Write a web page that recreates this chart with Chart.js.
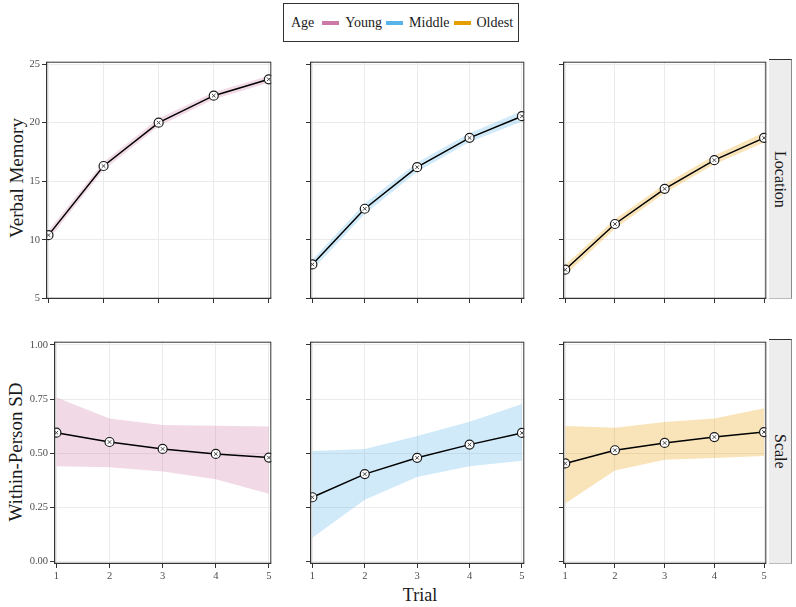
<!DOCTYPE html>
<html>
<head>
<meta charset="utf-8">
<script src="https://cdn.jsdelivr.net/npm/chart.js@4.4.1/dist/chart.umd.min.js"></script>
<style>
  html, body { margin: 0; padding: 0; background: #fff; }
  body { width: 796px; height: 607px; position: relative; overflow: hidden; font-family: 'Liberation Serif', 'DejaVu Serif', serif; color: #1a1a1a; }
  canvas { position: absolute; }
  #legend { position: absolute; left: 283px; top: 3px; width: 234px; height: 37px; border: 1.5px solid #333; display: flex; align-items: center; font-size: 14px; box-sizing: content-box; }
  #legend .title { margin-left: 7px; margin-right: 8px; }
  #legend .key { display: inline-block; width: 17px; height: 4px; margin-right: 6px; }
  #legend .lab { margin-right: 4px; }
  .strip { position: absolute; left: 769px; width: 23px; background: #ededed; border-top: 1px solid #333; border-right: 1px solid #8a8a8a; border-bottom: 1px solid #bbb; box-sizing: border-box; display: flex; align-items: center; justify-content: center; font-size: 16px; }
  .strip span { writing-mode: vertical-rl; }
  .ytitle { position: absolute; font-size: 19px; white-space: nowrap; transform: translate(-50%, -50%) rotate(-90deg); }
  #xtitle { position: absolute; left: 420px; top: 595px; font-size: 18px; transform: translate(-50%, -50%); }
</style>
</head>
<body>
<div id="legend"></div>
<div class="strip" style="top:59px;height:240px;"><span>Location</span></div>
<div class="strip" style="top:339px;height:225px;"><span>Scale</span></div>
<div class="ytitle" style="left:17px;top:178px;">Verbal Memory</div>
<div class="ytitle" style="left:16px;top:452px;">Within-Person SD</div>
<div id="xtitle">Trial</div>
<script>
const trials = [1, 2, 3, 4, 5];
const groups = ['Young', 'Middle', 'Oldest'];
const groupColors = ['#CC79A7', '#56B4E9', '#E69F00'];
const ribbonColors = ['rgba(204,121,167,0.28)', 'rgba(86,180,233,0.28)', 'rgba(230,159,0,0.28)'];

// Verbal Memory (Location row)
const memMean  = [[10.4, 16.3, 20.0, 22.3, 23.7], [7.9, 12.65, 16.2, 18.7, 20.55], [7.45, 11.35, 14.35, 16.8, 18.7]];
const memLower = [[10.0, 15.95, 19.7, 22.0, 23.4], [7.45, 12.2, 15.8, 18.35, 20.1], [7.0, 10.95, 14.0, 16.45, 18.3]];
const memUpper = [[10.8, 16.65, 20.35, 22.6, 24.0], [8.3, 13.1, 16.6, 19.1, 21.0], [7.85, 11.75, 14.75, 17.2, 19.15]];
const memTicks = [5, 10, 15, 20, 25];
const memTickLabels = ['5', '10', '15', '20', '25'];

// Within-Person SD (Scale row)
const sdMean  = [[0.595, 0.552, 0.52, 0.497, 0.48], [0.297, 0.404, 0.479, 0.54, 0.594], [0.453, 0.514, 0.548, 0.575, 0.598]];
const sdLower = [[0.44, 0.436, 0.416, 0.38, 0.313], [0.11, 0.285, 0.39, 0.44, 0.465], [0.268, 0.42, 0.47, 0.478, 0.488]];
const sdUpper = [[0.757, 0.66, 0.63, 0.627, 0.624], [0.51, 0.52, 0.58, 0.645, 0.728], [0.626, 0.618, 0.644, 0.66, 0.708]];
const sdTicks = [0, 0.25, 0.5, 0.75, 1.0];
const sdTickLabels = ['0.00', '0.25', '0.50', '0.75', '1.00'];

// legend
const legend = document.getElementById('legend');
legend.innerHTML = '<span class="title">Age</span>' + groups.map((g, i) =>
  `<span class="key" style="background:${groupColors[i]}"></span><span class="lab">${g}</span>`).join('');

const rows = [
  { top: 59, bottom: 299, lefts: [46, 310, 563], yMin: 4.95, yMax: 25.2, ticks: memTicks, labels: memTickLabels,
    mean: memMean, lo: memLower, hi: memUpper, showX: false },
  { top: 339, bottom: 564, lefts: [54, 310, 563], yMin: -0.011, yMax: 1.015, ticks: sdTicks, labels: sdTickLabels,
    mean: sdMean, lo: sdLower, hi: sdUpper, showX: true },
];
const rights = [274, 527, 769];

const YW = 44, XH = 24, PAD = 3;
const tickFont = { family: 'Liberation Serif', size: 10.5 };

const frame = {
  id: 'frame',
  afterDraw(chart) {
    const { ctx, chartArea: a } = chart;
    ctx.save();
    ctx.strokeStyle = '#333';
    ctx.lineWidth = 1;
    ctx.strokeRect(a.left + 0.5, a.top + 0.5, a.right - a.left - 1, a.bottom - a.top - 1);
    ctx.beginPath();
    ctx.moveTo(a.left + 1, a.top); ctx.lineTo(a.left + 1, a.bottom);
    ctx.moveTo(a.left, a.bottom - 1); ctx.lineTo(a.right, a.bottom - 1);
    ctx.strokeStyle = 'rgba(51,51,51,0.5)';
    ctx.stroke();
    ctx.restore();
  }
};

const pts = arr => trials.map((t, i) => ({ x: t, y: arr[i] }));

rows.forEach((row, r) => {
  groups.forEach((g, c) => {
    const l = row.lefts[c], w = rights[c] - l, h = row.bottom - row.top;
    const cv = document.createElement('canvas');
    cv.width = w + YW + PAD; cv.height = h + XH + PAD;
    cv.style.left = (l - YW) + 'px';
    cv.style.top = (row.top - PAD) + 'px';
    cv.style.width = cv.width + 'px';
    cv.style.height = cv.height + 'px';
    document.body.appendChild(cv);

    new Chart(cv, {
      type: 'line',
      data: {
        datasets: [
          { data: pts(row.lo[c]), order: 4, borderWidth: 0, borderColor: 'transparent', pointRadius: 0, fill: false },
          { data: pts(row.hi[c]), order: 3, borderWidth: 0, borderColor: 'transparent', pointRadius: 0, fill: '-1',
            backgroundColor: ribbonColors[c] },
          { data: pts(row.mean[c]), order: 1, borderColor: '#000', borderWidth: 1.5, fill: false,
            pointStyle: 'circle', pointRadius: 4.5, pointBorderWidth: 1.2,
            pointBackgroundColor: '#fff', pointBorderColor: '#1a1a1a' },
          { data: pts(row.mean[c]), order: 0, showLine: false, pointStyle: 'crossRot', pointRadius: 2.5,
            pointBorderWidth: 1, pointBorderColor: '#444', pointBackgroundColor: 'transparent' },
        ],
      },
      options: {
        responsive: false,
        animation: false,
        devicePixelRatio: 1,
        layout: { padding: { top: PAD, right: PAD, left: 0, bottom: 0 } },
        plugins: { colors: { enabled: false }, legend: { display: false }, tooltip: { enabled: false } },
        elements: { line: { tension: 0 } },
        scales: {
          x: {
            type: 'linear', min: 0.955, max: 5.045,
            afterBuildTicks: s => { s.ticks = trials.map(v => ({ value: v })); },
            afterFit: s => { s.height = XH; s.paddingLeft = 0; s.paddingRight = 0; },
            ticks: { display: row.showX, font: tickFont, color: '#4d4d4d', padding: 2, maxRotation: 0,
              callback: v => String(v) },
            grid: { color: '#ebebeb', tickColor: '#333', tickLength: 4 },
            border: { display: false },
          },
          y: {
            type: 'linear', min: row.yMin, max: row.yMax,
            afterBuildTicks: s => { s.ticks = row.ticks.map(v => ({ value: v })); },
            afterFit: s => { s.width = YW; s.paddingTop = 0; s.paddingBottom = 0; },
            ticks: { display: c === 0, font: tickFont, color: '#4d4d4d', padding: 2,
              callback: v => row.labels[row.ticks.indexOf(v)] },
            grid: { color: '#ebebeb', tickColor: '#333', tickLength: 4 },
            border: { display: false },
          },
        },
      },
      plugins: [frame],
    });
  });
});
</script>
</body>
</html>
